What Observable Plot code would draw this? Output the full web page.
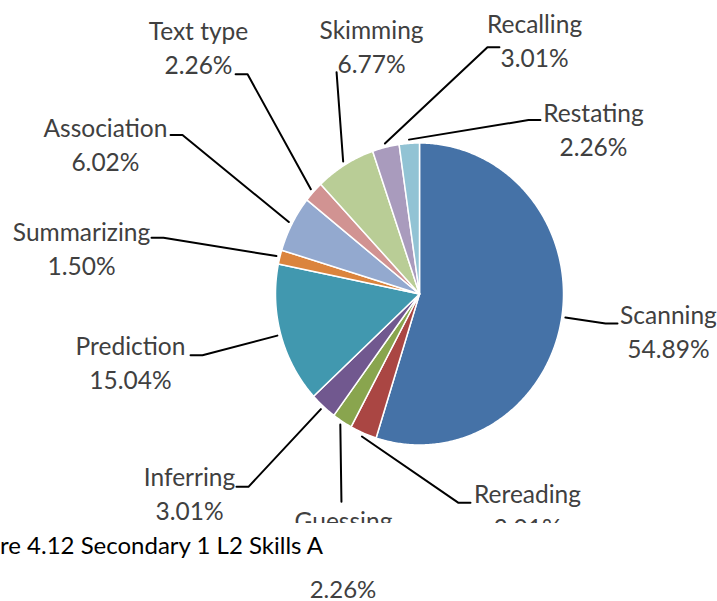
<!DOCTYPE html>
<html><head><meta charset="utf-8">
<script src="https://cdn.jsdelivr.net/npm/d3@7"></script>
<script src="https://cdn.jsdelivr.net/npm/@observablehq/plot@0.6"></script>
<style>
body{margin:0;background:#fff;font-family:Lato,"Open Sans",sans-serif;}
#wrap{position:relative;width:717px;height:601px;overflow:hidden;background:#fff;}
#chart{position:absolute;left:0;top:0;width:717px;height:523px;overflow:hidden;}
#caption{position:absolute;left:0;top:531px;font-size:24px;line-height:28px;color:#000;white-space:nowrap;}
#stray{position:absolute;top:575px;left:343px;transform:translateX(-50%);font-size:24px;line-height:28px;color:#404040;white-space:nowrap;}
</style></head><body>
<div id="wrap"><div id="chart"></div><div id="caption"></div><div id="stray"></div></div>
<script>
// ---- data ----
const skills = ["Scanning","Rereading","Guessing","Inferring","Prediction","Summarizing","Association","Text type","Skimming","Recalling","Restating"];
const percents = [54.89,3.01,2.26,3.01,15.04,1.50,6.02,2.26,6.77,3.01,2.26];
const colors = ["#4572A7","#AA4643","#89A54E","#71588F","#4198AF","#DB843D","#93A9CF","#D19392","#B9CD96","#A99BBD","#92C3D4"];
const captionText = "re 4.12 Secondary 1 L2 Skills A";

// ---- layout (pie units: radius = 1) ----
const labelX = [1.729,0.750,-0.528,-1.597,-2.007,-2.347,-2.181,-1.535,-0.333,0.799,1.208];
const labelY = [-0.149,-1.330,-1.508,-1.218,-0.353,0.406,1.092,1.733,1.739,1.779,1.191];
const elbowX = [1.292,0.271,-0.542,-1.188,-1.507,-1.778,-1.646,-1.194,-0.576,0.472,0.757];
const elbowY = [-0.195,-1.383,-1.376,-1.277,-0.406,0.373,1.053,1.455,1.469,1.634,1.152];
const tickDir = [1,1,0,-1,-1,-1,-1,-1,0,1,1];
const tickLen = 0.083;
const leaderR = 1.025;

const fmt = v => v.toFixed(2) + "%";
const arcs = d3.pie().sort(null).value(d => d)(percents);

const slicePts = [];
arcs.forEach((a, i) => {
  const n = Math.max(2, Math.ceil((a.endAngle - a.startAngle) / 0.01));
  slicePts.push({name: skills[i], x: 0, y: 0});
  for (let k = 0; k <= n; k++) {
    const t = a.startAngle + (a.endAngle - a.startAngle) * k / n;
    slicePts.push({name: skills[i], x: Math.sin(t), y: Math.cos(t)});
  }
  slicePts.push({name: skills[i], x: 0, y: 0});
});

const leaderPts = [];
arcs.forEach((a, i) => {
  const m = (a.startAngle + a.endAngle) / 2;
  leaderPts.push({name: skills[i], x: leaderR * Math.sin(m), y: leaderR * Math.cos(m)});
  leaderPts.push({name: skills[i], x: elbowX[i], y: elbowY[i]});
  if (tickDir[i] !== 0) leaderPts.push({name: skills[i], x: elbowX[i] + tickDir[i] * tickLen, y: elbowY[i]});
});

const labels = skills.map((s, i) => ({name: s, pct: fmt(percents[i]), x: labelX[i], y: labelY[i], i}));
const pctLabels = labels.filter(d => d.name !== "Guessing");

const font = "Lato, 'Open Sans', sans-serif";
const chart = Plot.plot({
  width: 717,
  height: 523,
  margin: 0,
  style: {background: "#fff", fontFamily: font},
  x: {domain: [-1, 1], range: [275, 563], axis: null},
  y: {domain: [-1, 1], range: [444.5, 142.5], axis: null},
  color: {domain: skills, range: colors, legend: false},
  marks: [
    Plot.line(slicePts, {x: "x", y: "y", z: "name", fill: "name", stroke: "white", strokeWidth: 1.5, curve: "linear"}),
    Plot.line(leaderPts, {x: "x", y: "y", z: "name", stroke: "black", strokeWidth: 2, curve: "linear"}),
    Plot.text(labels, {x: "x", y: "y", text: "name", fontSize: 24.5, fill: "#404040", textAnchor: "middle", fontFamily: font}),
    Plot.text(pctLabels, {x: "x", y: "y", dy: 34, text: "pct", fontSize: 24.5, fill: "#404040", textAnchor: "middle", fontFamily: font})
  ]
});
document.getElementById("chart").appendChild(chart);
document.getElementById("caption").textContent = captionText;
document.getElementById("stray").textContent = fmt(percents[skills.indexOf("Guessing")]);
</script>
</body></html>
